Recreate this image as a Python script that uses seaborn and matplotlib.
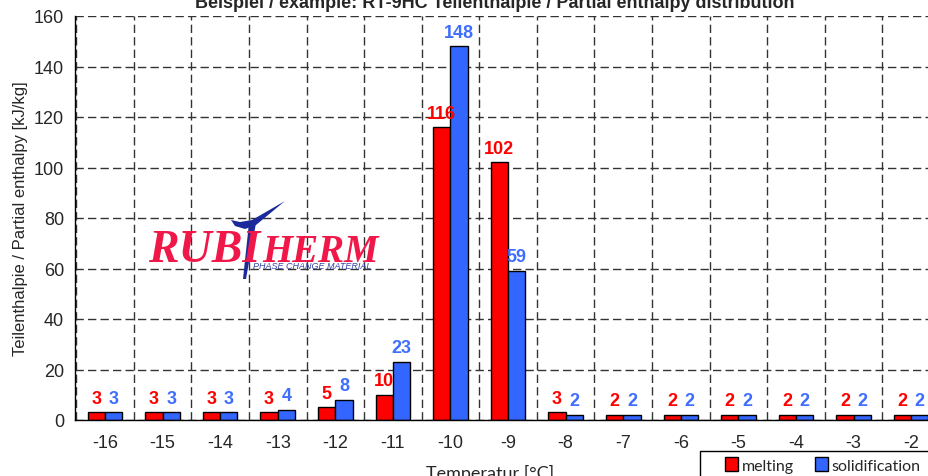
import pandas as pd
import matplotlib.pyplot as plt
import seaborn as sns
from matplotlib.ticker import MultipleLocator, FixedLocator
from matplotlib.patches import Patch, Polygon, Rectangle

#
# Data (kJ/kg per 1 K step)

temps = ["-16", "-15", "-14", "-13", "-12", "-11", "-10", "-9",
         "-8", "-7", "-6", "-5", "-4", "-3", "-2"]
melting = [3, 3, 3, 3, 5, 10, 116, 102, 3, 2, 2, 2, 2, 2, 2]
solidification = [3, 3, 3, 4, 8, 23, 148, 59, 2, 2, 2, 2, 2, 2, 2]

df = pd.DataFrame({"temp": temps * 2,
                   "value": melting + solidification,
                   "series": ["melting"] * len(temps) + ["solidification"] * len(temps)})

red = "#FF0000"
blue = "#3366FF"

sns.set_style("white")
plt.rcParams["font.family"] = ["Liberation Sans", "DejaVu Sans"]

fig = plt.figure(figsize=(9.29, 4.77), dpi=100)
ax = fig.add_axes([75 / 929, 56 / 477, 865 / 929, 404 / 477])

sns.barplot(data=df, x="temp", y="value", hue="series", order=temps,
            hue_order=["melting", "solidification"], palette=[red, blue],
            saturation=1, width=0.6, edgecolor="black", linewidth=1, ax=ax, legend=False)

for cont, col in zip(ax.containers, [red, "#3F6EFF"]):
    ax.bar_label(cont, padding=4, color=col, fontsize=13, fontweight="bold")

ax.set_xlim(-0.52, 14.5)
ax.set_ylim(0, 160)
ax.yaxis.set_major_locator(MultipleLocator(20))
ax.xaxis.set_minor_locator(FixedLocator([i + 0.5 for i in range(-1, 15)]))
ax.tick_params(axis="x", which="major", length=0, labelsize=13, pad=10)
ax.tick_params(axis="x", which="minor", length=6, width=1, color="#444444", direction="out")
ax.tick_params(axis="y", length=5, width=1, color="black", direction="out", labelsize=13, pad=3)
ax.grid(axis="y", which="major", linestyle=(0, (6, 3)), color="#333333", linewidth=1)
ax.grid(axis="x", which="minor", linestyle=(0, (6, 3)), color="#333333", linewidth=1)
ax.set_axisbelow(True)
for side in ["top", "right"]:
    ax.spines[side].set_visible(False)
for side in ["left", "bottom"]:
    ax.spines[side].set_color("black")
    ax.spines[side].set_linewidth(1)
ax.set_xlabel("")
ax.set_ylabel("Teilenthalpie / Partial enthalpy [kJ/kg]", fontsize=12, labelpad=4)

# title and axis label, both partly cut by the figure edge
fig.text(495 / 929, 1 - 8 / 477, "Beispiel / example: RT-9HC Teilenthalpie / Partial enthalpy distribution",
         ha="center", va="baseline", fontsize=13, fontweight="bold")
fig.text(490 / 929, -2 / 477, "Temperatur [°C]", ha="center", va="baseline",
         fontsize=13, family=["Lato", "DejaVu Sans"])

# logo
def px(pts):
    return [(x / 929, 1 - y / 477) for x, y in pts]

logo_red = "#F01848"
logo_blue = "#1A2A9A"
fig.text(148 / 929, 1 - 262 / 477, "RUBI", color=logo_red, fontsize=33, style="italic",
         fontweight="bold", family="Liberation Serif", va="baseline", ha="left")
fig.text(262 / 929, 1 - 262 / 477, "HERM", color=logo_red, fontsize=28, style="italic",
         fontweight="bold", family="Liberation Serif", va="baseline", ha="left")
swoosh = [(231, 221), (235, 227), (245, 230), (256, 226), (285, 202), (252, 221), (240, 223)]
stem = [(249, 224), (256, 224), (246, 280), (243, 280)]
for shape in [swoosh, stem]:
    fig.add_artist(Polygon(px(shape), closed=True, facecolor=logo_blue, edgecolor="none",
                           transform=fig.transFigure))
fig.text(312 / 929, 1 - 269 / 477, "PHASE CHANGE MATERIAL", color="#3344AA", fontsize=6.5,
         style="italic", va="baseline", ha="center")

# legend (frame drawn separately, it runs off the figure)
fig.add_artist(Rectangle((700 / 929, -0.05), 0.3, 0.05 + 25 / 477, transform=fig.transFigure,
                         facecolor="white", edgecolor="black", linewidth=1))
handles = [Patch(facecolor=red, edgecolor="black"), Patch(facecolor=blue, edgecolor="black")]
leg = fig.legend(handles, ["melting", "solidification"], loc="upper left",
                 bbox_to_anchor=(722 / 929, 1 - 455 / 477), borderaxespad=0, borderpad=0.2,
                 ncol=2, frameon=False, handlelength=0.8, handleheight=0.95,
                 handletextpad=0.25, columnspacing=1.3,
                 prop={"family": ["Lato", "DejaVu Sans"], "size": 11.5})

fig.savefig("out.png", dpi=100)
